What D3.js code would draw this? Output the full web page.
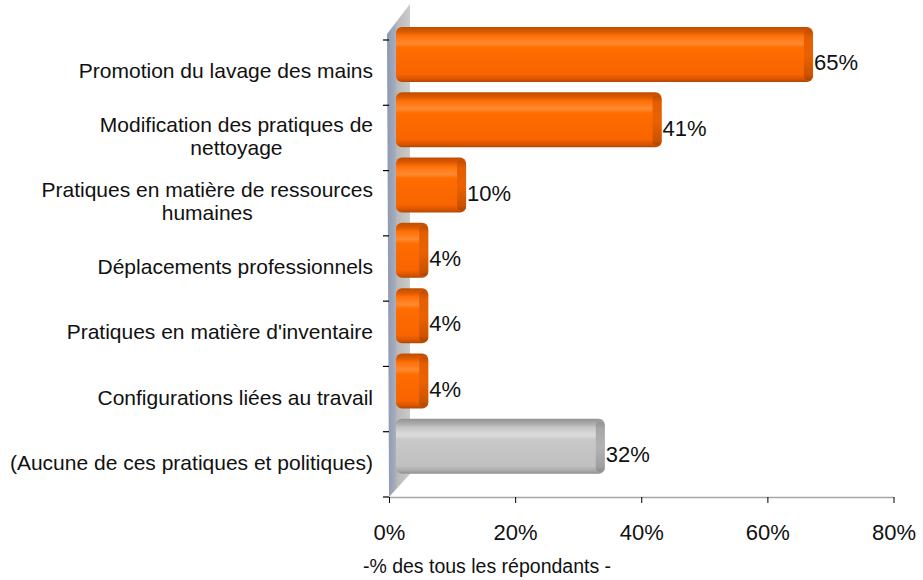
<!DOCTYPE html>
<html>
<head>
<meta charset="utf-8">
<script src="https://cdn.jsdelivr.net/npm/d3@7"></script>
<style>
  body { margin: 0; background: #fff; }
  svg { display: block; font-family: "Liberation Sans", Arial, sans-serif; }
</style>
</head>
<body>
<div id="chart"></div>
<script>
const categories = [
  ["Promotion du lavage des mains"],
  ["Modification des pratiques de", "nettoyage"],
  ["Pratiques en matière de ressources", "humaines"],
  ["Déplacements professionnels"],
  ["Pratiques en matière d'inventaire"],
  ["Configurations liées au travail"],
  ["(Aucune de ces pratiques et politiques)"]
]
const values = [65, 41, 10, 4, 4, 4, 32]
const barKinds = ["orange", "orange", "orange", "orange", "orange", "orange", "grey"]
const xTicks = [0, 20, 40, 60, 80]
const axisTitle = "-% des tous les répondants -"

const width = 923, height = 580
const margin = { top: 40, right: 29.5, bottom: 83, left: 389 }

const rows = categories.map((lines, i) => ({ key: i, lines, value: values[i], kind: barKinds[i] }))

const svg = d3.select("#chart").append("svg")
  .attr("width", width).attr("height", height)

const x = d3.scaleLinear()
  .domain([0, 80])
  .range([margin.left, width - margin.right])

const y = d3.scaleBand()
  .domain(rows.map(d => d.key))
  .range([margin.top, height - margin.bottom])

const defs = svg.append("defs")

// colour gradients for the 3d-ish bars
const grad = (id, stops, vertical = true) => {
  const g = defs.append("linearGradient").attr("id", id)
    .attr("x1", 0).attr("y1", 0)
    .attr("x2", vertical ? 0 : 1).attr("y2", vertical ? 1 : 0)
  stops.forEach(([o, c]) => g.append("stop").attr("offset", o).attr("stop-color", c))
}
grad("orangeFace", [[0, "#bf4d00"], [0.09, "#dd5a00"], [0.16, "#ff7008"], [0.3, "#ff8a30"],
  [0.38, "#ff6c00"], [0.86, "#f86400"], [0.95, "#d65400"], [1, "#b04700"]])
grad("orangeCap", [[0, "#bf4d00"], [0.15, "#e45e00"], [0.5, "#ea6200"], [0.9, "#cc5300"], [1, "#ad4500"]])
grad("greyFace", [[0, "#929292"], [0.09, "#ababab"], [0.16, "#c6c6c6"], [0.3, "#dcdcdc"],
  [0.38, "#c8c8c8"], [0.86, "#c0c0c0"], [0.95, "#a8a8a8"], [1, "#909090"]])
grad("greyCap", [[0, "#929292"], [0.15, "#a8a8a8"], [0.5, "#b2b2b2"], [0.9, "#a0a0a0"], [1, "#8c8c8c"]])
grad("wall", [[0, "#8d98b0"], [0.35, "#a3abbd"], [0.45, "#b9b9b9"], [1, "#cbcbcb"]], false)

// back wall (3d depth of the category axis)
const x0 = x(0)
const yTop = y.range()[0], yBot = y.range()[1]
svg.append("polygon")
  .attr("points", [[x0 - 2, yTop - 6], [x0 + 21, yTop - 36], [x0 + 21, yBot - 23], [x0, yBot]].join(" "))
  .attr("fill", "url(#wall)")

// bottom axis
const xAxis = svg.append("g")
  .attr("transform", `translate(0,${yBot})`)
  .call(d3.axisBottom(x).tickValues(xTicks).tickFormat(d => d + "%").tickSize(6).tickSizeOuter(0))
xAxis.select(".domain").attr("stroke", "#a6a6a6").attr("stroke-width", 1.5)
xAxis.selectAll(".tick line").attr("stroke", "#000")
xAxis.selectAll(".tick text")
  .attr("font-size", 22).attr("font-family", "Liberation Sans, Arial, sans-serif")
  .attr("fill", "#111").attr("dy", "1.55em")

svg.append("text")
  .attr("x", 487).attr("y", 568)
  .attr("text-anchor", "middle").attr("dominant-baseline", "middle")
  .attr("font-size", 19.5).attr("fill", "#111")
  .text(axisTitle)

// left ticks at band boundaries
const bounds = rows.map(d => y(d.key)).concat(yBot)
svg.append("g").selectAll("line")
  .data(bounds)
  .join("line")
  .attr("x1", x0 - 6).attr("x2", x0)
  .attr("y1", d => d).attr("y2", d => d)
  .attr("stroke", "#000").attr("stroke-width", 1.2)

// category labels, multi-line ones centred on their widest line
const labelRight = x0 - 16
const lineH = 23
const labels = svg.append("g").attr("font-size", 21).attr("fill", "#111")
rows.forEach(d => {
  const g = labels.append("g")
  const cy = y(d.key) + y.bandwidth() / 2
  const texts = d.lines.map((line, i) => g.append("text")
    .attr("y", cy + (i - (d.lines.length - 1) / 2) * lineH)
    .attr("dominant-baseline", "middle")
    .text(line))
  const maxW = d3.max(texts, t => t.node().getComputedTextLength())
  texts.forEach(t => t.attr("text-anchor", "middle").attr("x", labelRight - maxW / 2))
})

// bars
const barH = 55
const barOff = -13
const bars = svg.append("g").selectAll("g")
  .data(rows)
  .join("g")

bars.append("rect")
  .attr("x", x0 + 7)
  .attr("y", d => y(d.key) + barOff)
  .attr("width", d => x(d.value) + 14 - (x0 + 7))
  .attr("height", barH)
  .attr("rx", 6)
  .attr("fill", d => d.kind === "grey" ? "url(#greyFace)" : "url(#orangeFace)")

bars.append("rect")
  .attr("x", d => x(d.value) + 5)
  .attr("y", d => y(d.key) + barOff + 3)
  .attr("width", 9)
  .attr("height", barH - 5)
  .attr("rx", 4)
  .attr("fill", d => d.kind === "grey" ? "url(#greyCap)" : "url(#orangeCap)")

// value labels
svg.append("g").selectAll("text")
  .data(rows)
  .join("text")
  .attr("x", d => x(d.value) + 15)
  .attr("y", d => y(d.key) + barOff + barH / 2 + 10)
  .attr("dominant-baseline", "middle")
  .attr("font-size", 22)
  .attr("fill", "#111")
  .text(d => d.value + "%")
</script>
</body>
</html>
